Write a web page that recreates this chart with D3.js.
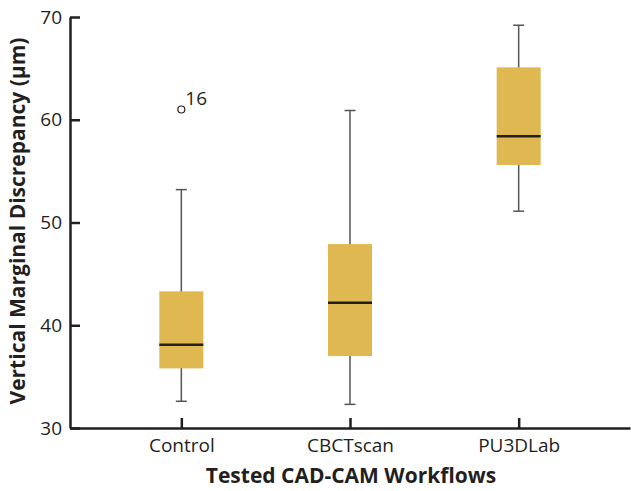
<!DOCTYPE html>
<html>
<head>
<meta charset="utf-8">
<script src="https://cdn.jsdelivr.net/npm/d3@7"></script>
<style>
  body { margin: 0; background: #fff; }
  svg { display: block; font-family: "Open Sans", sans-serif; }
</style>
</head>
<body>
<svg id="chart" width="631" height="491"></svg>
<script>
// data
var workflows = ["Control", "CBCTscan", "PU3DLab"];
var whiskerLow = [32.6, 32.3, 51.1];
var q1 = [35.8, 37.0, 55.6];
var median = [38.1, 42.2, 58.4];
var q3 = [43.3, 47.9, 65.1];
var whiskerHigh = [53.2, 60.9, 69.2];
var outliers = [{ group: "Control", value: 61.0, label: "16" }];
var yTicks = [30, 40, 50, 60, 70];

var svg = d3.select("#chart");
var boxColor = "#e0b852";
var ink = "#231f20";

var x = d3.scalePoint().domain(workflows).range([70, 630]).padding(0.66);
var y = d3.scaleLinear().domain([30, 70]).range([428, 17]);

var boxes = workflows.map(function (w, i) {
    return { name: w, lo: whiskerLow[i], q1: q1[i], med: median[i], q3: q3[i], hi: whiskerHigh[i] };
});

var boxW = 44, capW = 11;

// whiskers
var g = svg.append("g");
var b = g.selectAll("g.box").data(boxes).enter().append("g").attr("class", "box");

b.append("line")
    .attr("x1", function (d) { return x(d.name); })
    .attr("x2", function (d) { return x(d.name); })
    .attr("y1", function (d) { return y(d.hi); })
    .attr("y2", function (d) { return y(d.lo); })
    .style("stroke", "#555").style("stroke-width", 1.5);

b.selectAll("line.cap")
    .data(function (d) { return [{ x: d.name, v: d.hi }, { x: d.name, v: d.lo }]; })
    .enter().append("line").attr("class", "cap")
    .attr("x1", function (d) { return x(d.x) - capW / 2; })
    .attr("x2", function (d) { return x(d.x) + capW / 2; })
    .attr("y1", function (d) { return y(d.v); })
    .attr("y2", function (d) { return y(d.v); })
    .style("stroke", "#555").style("stroke-width", 1.5);

b.append("rect")
    .attr("x", function (d) { return x(d.name) - boxW / 2; })
    .attr("y", function (d) { return y(d.q3); })
    .attr("width", boxW)
    .attr("height", function (d) { return y(d.q1) - y(d.q3); })
    .style("fill", boxColor);

b.append("line")
    .attr("x1", function (d) { return x(d.name) - boxW / 2; })
    .attr("x2", function (d) { return x(d.name) + boxW / 2; })
    .attr("y1", function (d) { return y(d.med); })
    .attr("y2", function (d) { return y(d.med); })
    .style("stroke", ink).style("stroke-width", 2.5);

// outliers
var o = g.selectAll("g.out").data(outliers).enter().append("g");
o.append("circle")
    .attr("cx", function (d) { return x(d.group); })
    .attr("cy", function (d) { return y(d.value); })
    .attr("r", 3.5)
    .style("fill", "#fff").style("stroke", ink).style("stroke-width", 1.2);
o.append("text")
    .attr("x", function (d) { return x(d.group) + 4; })
    .attr("y", function (d) { return y(d.value) - 4; })
    .style("font-size", "19px").style("fill", ink)
    .text(function (d) { return d.label; });

// axes
var yAxis = svg.append("g").attr("transform", "translate(70,0)")
    .call(d3.axisLeft(y).tickValues(yTicks).tickSizeInner(-10).tickSizeOuter(0).tickPadding(8));
var xAxis = svg.append("g").attr("transform", "translate(0,428)")
    .call(d3.axisBottom(x).tickSizeInner(-10).tickSizeOuter(0).tickPadding(11));

[yAxis, xAxis].forEach(function (a) {
    a.select(".domain").style("stroke", ink).style("stroke-width", 2.5);
    a.selectAll(".tick line").style("stroke", ink).style("stroke-width", 2.5);
    a.selectAll(".tick text").style("font-size", "19px").style("fill", ink)
        .style("font-family", "'Open Sans', sans-serif");
});

// titles
svg.append("text")
    .attr("transform", "translate(25,221) rotate(-90)")
    .attr("text-anchor", "middle")
    .style("font-size", "21px").style("font-weight", "bold").style("fill", ink)
    .text("Vertical Marginal Discrepancy (µm)");

svg.append("text")
    .attr("x", 351).attr("y", 483)
    .attr("text-anchor", "middle")
    .style("font-size", "21px").style("font-weight", "bold").style("fill", ink)
    .text("Tested CAD-CAM Workflows");
</script>
</body>
</html>
